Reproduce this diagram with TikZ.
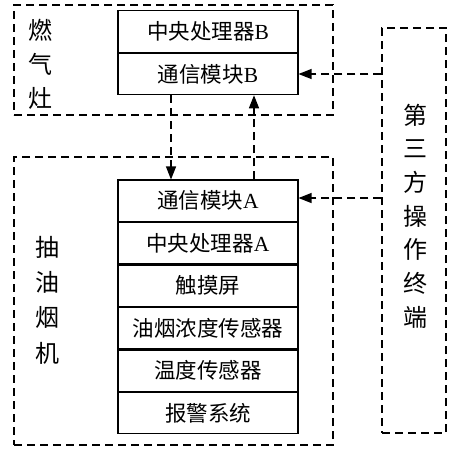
\documentclass[tikz,border=0pt]{standalone}
\usepackage{fontspec}
\setmainfont{Liberation Serif}
\newfontfamily\cjk{Noto Sans CJK SC}
\usetikzlibrary{arrows.meta}
\begin{document}
\begin{tikzpicture}[x=1pt,y=-1pt,
  dashbox/.style={draw,line width=1.2pt,dash pattern=on 8pt off 5pt,inner sep=0pt},
  cell/.style={draw,line width=1.1pt,minimum width=180pt,minimum height=41.4pt,inner sep=0pt,
    font=\fontsize{21.5}{24}\selectfont},
  title/.style={align=center,inner sep=0pt},
  link/.style={line width=1.2pt,dash pattern=on 8pt off 5pt,-{Triangle[length=13pt,width=10pt]}}]
\useasboundingbox (0,0) rectangle (457,450);
% outer dashed boxes
\node[dashbox,minimum width=319pt,minimum height=110pt] (G) at (173.5,60) {};
\node[dashbox,minimum width=319pt,minimum height=288pt] (H) at (173.5,301) {};
\node[dashbox,minimum width=64pt,minimum height=405pt] (T) at (414,230.5) {};
% titles
\node[title,font=\fontsize{24}{34}\selectfont\cjk] (tG) at (40,64) {燃\\气\\灶};
\node[title,font=\fontsize{24}{35.3}\selectfont\cjk] (tH) at (47,300) {抽\\油\\烟\\机};
\node[title,font=\fontsize{24}{33.7}\selectfont\cjk] (tT) at (415,216) {第\\三\\方\\操\\作\\终\\端};
% B stack
\node[cell] (B1) at (208,31.5) {{\cjk 中央处理器}B};
\node[cell,anchor=north] (B2) at (B1.south) {{\cjk 通信模块}B};
% A stack
\node[cell] (A1) at (208,200.7) {{\cjk 通信模块}A};
\node[cell,anchor=north] (A2) at (A1.south) {{\cjk 中央处理器}A};
\node[cell,anchor=north] (A3) at (A2.south) {\cjk 触摸屏};
\node[cell,anchor=north] (A4) at (A3.south) {\cjk 油烟浓度传感器};
\node[cell,anchor=north] (A5) at (A4.south) {\cjk 温度传感器};
\node[cell,anchor=north] (A6) at (A5.south) {\cjk 报警系统};
% connectors
\draw[link] ([xshift=-37pt]B2.south) -- ([xshift=-37pt]A1.north);
\draw[link] ([xshift=46pt]A1.north) -- ([xshift=46pt]B2.south);
\draw[link] (T.west |- B2.east) -- (B2.east);
\draw[link] (T.west |- 0,198) -- (A1.east |- 0,198);
\end{tikzpicture}
\end{document}
